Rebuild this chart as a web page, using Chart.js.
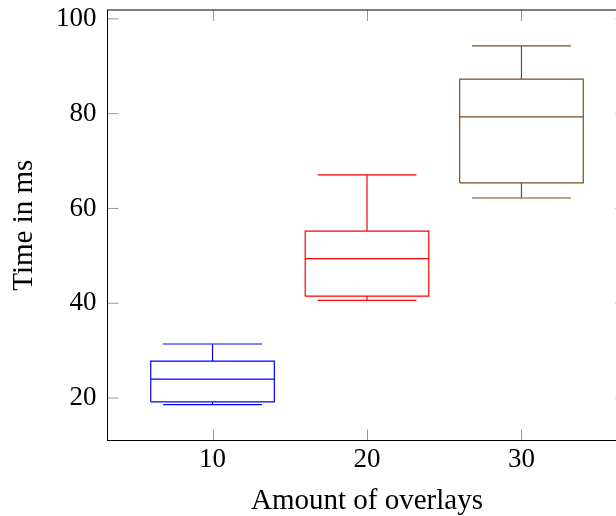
<!DOCTYPE html>
<html>
<head>
<meta charset="utf-8">
<script src="https://cdn.jsdelivr.net/npm/chart.js@4.4.1/dist/chart.umd.min.js"></script>
<style>
  html, body { margin: 0; padding: 0; background: #fff; overflow: hidden; }
  canvas { display: block; }
</style>
</head>
<body>
<canvas id="boxChart" width="640" height="516"></canvas>
<script>
// box plot values
const overlays = [10, 20, 30];
const whiskerLow = [18.6, 40.6, 62.2];
const quartile1 = [19.2, 41.5, 65.4];
const median = [24.0, 49.4, 79.3];
const quartile3 = [27.8, 55.2, 87.3];
const whiskerHigh = [31.4, 67.1, 94.3];
const xTicks = [10, 20, 30];
const yTicks = [20, 40, 60, 80, 100];

const colors = ['#0000ff', '#ff0000', '#734d26'];
const BOX_HALF = 4;    // half box width, in x units
const CAP_HALF = 3.2;  // half whisker cap width
const TICK_LEN = 11;

// one path per box: rectangle, median, whiskers and caps, split by gaps
function boxPoints(i) {
  const x = overlays[i];
  const gap = { x: x, y: null };
  const lo = x - BOX_HALF, hi = x + BOX_HALF;
  return [
    { x: lo, y: quartile1[i] }, { x: hi, y: quartile1[i] },
    { x: hi, y: quartile3[i] }, { x: lo, y: quartile3[i] }, { x: lo, y: quartile1[i] },
    gap,
    { x: lo, y: median[i] }, { x: hi, y: median[i] },
    gap,
    { x: x, y: quartile3[i] }, { x: x, y: whiskerHigh[i] },
    gap,
    { x: x - CAP_HALF, y: whiskerHigh[i] }, { x: x + CAP_HALF, y: whiskerHigh[i] },
    gap,
    { x: x, y: quartile1[i] }, { x: x, y: whiskerLow[i] },
    gap,
    { x: x - CAP_HALF, y: whiskerLow[i] }, { x: x + CAP_HALF, y: whiskerLow[i] },
  ];
}

// pgfplots-like frame with inward ticks on all four sides
const framePlugin = {
  id: 'frame',
  afterDraw(chart) {
    const { ctx, chartArea: { left, right, top, bottom }, scales: { x, y } } = chart;
    ctx.save();
    ctx.strokeStyle = '#999';
    ctx.lineWidth = 1;
    ctx.beginPath();
    xTicks.forEach((v) => {
      const px = Math.round(x.getPixelForValue(v)) + 0.5;
      ctx.moveTo(px, bottom); ctx.lineTo(px, bottom - TICK_LEN);
      ctx.moveTo(px, top); ctx.lineTo(px, top + TICK_LEN);
    });
    yTicks.forEach((v) => {
      const py = y.getPixelForValue(v);
      ctx.moveTo(left, py); ctx.lineTo(left + TICK_LEN, py);
      ctx.moveTo(right, py); ctx.lineTo(right - TICK_LEN, py);
    });
    ctx.stroke();
    ctx.strokeStyle = '#000';
    ctx.strokeRect(left, top, right - left, bottom - top);
    ctx.restore();
  },
};

Chart.defaults.font.family = '"Liberation Serif", serif';
Chart.defaults.color = '#000';

const ctx = document.getElementById('boxChart').getContext('2d');
new Chart(ctx, {
  type: 'scatter',
  data: {
    datasets: overlays.map((o, i) => ({
      label: String(o),
      data: boxPoints(i),
      showLine: true,
      spanGaps: false,
      borderColor: colors[i],
      borderWidth: 1.2,
      pointRadius: 0,
      fill: false,
    })),
  },
  options: {
    responsive: false,
    animation: false,
    layout: { padding: { top: 10, right: 13.5, left: 0, bottom: 0 } },
    plugins: { legend: { display: false }, tooltip: { enabled: false } },
    scales: {
      x: {
        type: 'linear',
        min: 3.2,
        max: 36.8,
        grid: { display: false, drawTicks: false },
        border: { display: false },
        afterBuildTicks: (scale) => { scale.ticks = xTicks.map((v) => ({ value: v })); },
        afterFit: (scale) => {
          scale.height = 75.5;
          scale.paddingLeft = 0;
          scale.paddingRight = 0;
        },
        ticks: { font: { size: 27 }, padding: 3, maxRotation: 0, autoSkip: false },
        title: { display: true, text: 'Amount of overlays', font: { size: 29, lineHeight: 1 }, padding: { top: 0, bottom: 0 } },
      },
      y: {
        type: 'linear',
        min: 11.04,
        max: 101.87,
        grid: { display: false, drawTicks: false },
        border: { display: false },
        afterBuildTicks: (scale) => { scale.ticks = yTicks.map((v) => ({ value: v })); },
        afterFit: (scale) => {
          scale.width = 107.5;
          scale.paddingTop = 0;
          scale.paddingBottom = 0;
        },
        ticks: { font: { size: 27 }, padding: 11 },
        title: { display: true, text: 'Time in ms', font: { size: 29 }, padding: 7 },
      },
    },
  },
  plugins: [framePlugin],
});
</script>
</body>
</html>
